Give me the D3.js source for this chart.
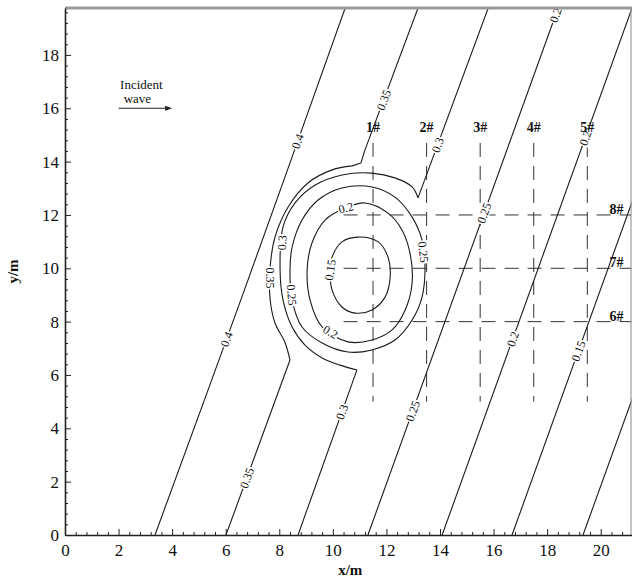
<!DOCTYPE html>
<html>
<head>
<meta charset="utf-8">
<script src="https://cdn.jsdelivr.net/npm/d3@7"></script>
<style>
  body { margin: 0; background: #fff; }
  text { font-family: "Liberation Serif", "Times New Roman", serif; fill: #111; }
</style>
</head>
<body>
<svg id="chart" width="632" height="580"></svg>
<script>
// ---- Domain and ticks (metres) ----
const xDomain = [0, 21.15];
const yDomain = [0, 19.76];
const xMajorTicks = [0, 2, 4, 6, 8, 10, 12, 14, 16, 18, 20];
const yMajorTicks = [0, 2, 4, 6, 8, 10, 12, 14, 16, 18];
const minorStep = 0.4;

// ---- Wave height contours: [x, y] points in metres ----
const h040 = [[3.36, 0], [6.70, 9.19], [10.46, 19.76]];
const h035 = [[6.01, 0], [8.40, 6.56], [8.22, 7.20], [7.84, 7.95], [7.66, 8.81], [7.66, 10.05],
              [7.84, 11.17], [8.33, 12.30], [9.07, 13.20], [9.97, 13.69], [10.72, 13.84],
              [11.05, 13.95], [11.20, 14.44], [13.18, 19.76]];
const h030 = [[8.70, 0], [10.90, 6.19], [10.27, 6.37], [9.60, 6.64], [8.96, 7.12], [8.48, 7.80],
              [8.14, 8.81], [8.03, 9.94], [8.14, 11.55], [8.59, 12.45], [9.34, 13.12],
              [10.34, 13.50], [11.46, 13.57], [12.32, 13.39], [12.96, 13.05], [13.18, 12.64],
              [15.80, 19.76]];
const h025 = [[11.31, 0], [18.41, 19.76]];
const h025ring = [[11.46, 13.05], [10.34, 13.01], [9.45, 12.56], [8.85, 11.81], [8.48, 10.80],
                  [8.40, 9.94], [8.48, 8.81], [8.85, 7.80], [9.60, 7.20], [10.57, 6.86],
                  [11.46, 6.94], [12.32, 7.31], [12.96, 8.06], [13.33, 8.92], [13.44, 10.05],
                  [13.33, 11.06], [12.96, 11.92], [12.32, 12.67]];
const h020 = [[14.08, 0], [21.17, 19.76]];
const h020ring = [[11.20, 12.45], [10.46, 12.26], [9.71, 11.81], [9.22, 10.95], [9.04, 9.94],
                  [9.15, 8.81], [9.60, 7.80], [10.57, 7.24], [11.46, 7.31], [12.21, 7.69],
                  [12.70, 8.44], [12.96, 9.45], [12.88, 10.57], [12.58, 11.44], [12.06, 12.07]];
const h015 = [[16.69, 0], [21.20, 12.57]];
const h015ring = [[10.94, 11.17], [10.34, 10.99], [9.97, 10.42], [9.90, 9.94], [9.97, 9.19],
                  [10.34, 8.55], [10.83, 8.32], [11.46, 8.44], [11.95, 8.92], [12.14, 9.67],
                  [12.06, 10.42], [11.69, 10.99]];
const h010 = [[19.34, 0], [21.20, 5.17]];

// Point indices where a contour bends sharply round the obstacle
const h035Corners = [1, 10, 11, 12];
const h030Corners = [1, 15];

// Where each contour carries its value label (points in metres)
const h040Labels = [[8.66, 14.77], [6.00, 7.35]];
const h035Labels = [[11.90, 16.31], [6.79, 2.14], [7.66, 9.64]];
const h030Labels = [[13.91, 14.62], [10.34, 4.61], [8.25, 10.95]];
const h025Labels = [[15.65, 12.07], [12.98, 4.65], [18.35, 19.60]];
const h025ringLabels = [[8.44, 9.00], [13.40, 10.61]];
const h020Labels = [[19.42, 14.89], [16.72, 7.35]];
const h020ringLabels = [[10.53, 12.11], [9.82, 7.46]];
const h015Labels = [[19.17, 6.90]];
const h015ringLabels = [[9.90, 9.94]];

// ---- Measuring stations ----
const stationX = [11.5, 13.5, 15.5, 17.5, 19.5];
const stationXNames = ["1#", "2#", "3#", "4#", "5#"];
const stationXSpan = [5.0, 14.7];
const stationY = [8, 10, 12];
const stationYNames = ["6#", "7#", "8#"];
const stationYStart = 10.4;

// Incident wave arrow (metres)
const arrowFrom = [2.0, 16.0];
const arrowTo = [4.0, 16.0];

const contourLines = [
  { level: 0.40, pts: h040, closed: false, corners: [], labels: h040Labels },
  { level: 0.35, pts: h035, closed: false, corners: h035Corners, labels: h035Labels },
  { level: 0.30, pts: h030, closed: false, corners: h030Corners, labels: h030Labels },
  { level: 0.25, pts: h025, closed: false, corners: [], labels: h025Labels },
  { level: 0.25, pts: h025ring, closed: true, corners: [], labels: h025ringLabels },
  { level: 0.20, pts: h020, closed: false, corners: [], labels: h020Labels },
  { level: 0.20, pts: h020ring, closed: true, corners: [], labels: h020ringLabels },
  { level: 0.15, pts: h015, closed: false, corners: [], labels: h015Labels },
  { level: 0.15, pts: h015ring, closed: true, corners: [], labels: h015ringLabels },
  { level: 0.10, pts: h010, closed: false, corners: [], labels: [] }
];

// ---- Layout ----
const M = { left: 65, right: 631.5, top: 8, bottom: 535 };
const svg = d3.select("#chart");
const x = d3.scaleLinear().domain(xDomain).range([M.left, M.right]);
const y = d3.scaleLinear().domain(yDomain).range([M.bottom, M.top]);

svg.append("defs").append("clipPath").attr("id", "plotClip")
  .append("rect").attr("x", M.left).attr("y", M.top)
  .attr("width", M.right - M.left).attr("height", M.bottom - M.top);

const plot = svg.append("g").attr("clip-path", "url(#plotClip)");

// Station dashed lines
const dash = "14,9";
plot.append("g").selectAll("line").data(stationX).join("line")
  .attr("x1", d => x(d)).attr("x2", d => x(d))
  .attr("y1", y(stationXSpan[1])).attr("y2", y(stationXSpan[0]))
  .attr("stroke", "#333").attr("stroke-width", 1).attr("stroke-dasharray", dash);
plot.append("g").selectAll("line").data(stationY).join("line")
  .attr("x1", x(stationYStart)).attr("x2", x(xDomain[1]))
  .attr("y1", d => y(d)).attr("y2", d => y(d))
  .attr("stroke", "#333").attr("stroke-width", 1).attr("stroke-dasharray", dash);

// Contour lines: smooth between corners, straight where only two points remain
const smoothLine = d3.line().x(d => x(d[0])).y(d => y(d[1])).curve(d3.curveCatmullRom.alpha(0.5));
const closedLine = d3.line().x(d => x(d[0])).y(d => y(d[1])).curve(d3.curveCatmullRomClosed.alpha(0.5));
const straightLine = d3.line().x(d => x(d[0])).y(d => y(d[1]));

function contourPath(c) {
  if (c.closed) return closedLine(c.pts);
  const cuts = [0, ...c.corners, c.pts.length - 1];
  let d = "";
  for (let i = 0; i < cuts.length - 1; i++) {
    const piece = c.pts.slice(cuts[i], cuts[i + 1] + 1);
    d += (piece.length > 2 ? smoothLine : straightLine)(piece);
  }
  return d;
}

plot.append("g").selectAll("path").data(contourLines).join("path")
  .attr("d", contourPath)
  .attr("fill", "none").attr("stroke", "#1a1a1a").attr("stroke-width", 1.1)
  .attr("stroke-linejoin", "miter");

// Snap a label spot onto its contour and find the local direction
function onLine(c, p) {
  const P = [x(p[0]), y(p[1])];
  const n = c.pts.length, segs = c.closed ? n : n - 1;
  let best = null;
  for (let i = 0; i < segs; i++) {
    const a = c.pts[i], b = c.pts[(i + 1) % n];
    const ax = x(a[0]), ay = y(a[1]), bx = x(b[0]), by = y(b[1]);
    const dx = bx - ax, dy = by - ay;
    const t = Math.max(0, Math.min(1, ((P[0] - ax) * dx + (P[1] - ay) * dy) / (dx * dx + dy * dy)));
    const qx = ax + t * dx, qy = ay + t * dy;
    const dist = Math.hypot(qx - P[0], qy - P[1]);
    if (!best || dist < best.dist) best = { dist, qx, qy, ang: Math.atan2(dy, dx) * 180 / Math.PI };
  }
  let ang = best.ang;
  if (ang > 90) ang -= 180;
  if (ang <= -90) ang += 180;
  return { px: best.qx, py: best.qy, ang };
}

const fmt = v => String(+v.toFixed(2));
const labelLayer = plot.append("g");
contourLines.forEach(c => {
  c.labels.forEach(p => {
    const s = onLine(c, p);
    const g = labelLayer.append("g")
      .attr("transform", `translate(${s.px},${s.py}) rotate(${s.ang})`);
    const t = g.append("text").attr("text-anchor", "middle").attr("dy", "0.35em")
      .attr("font-size", 12).text(fmt(c.level));
    const bb = t.node().getBBox();
    g.insert("rect", "text").attr("x", bb.x - 1).attr("y", bb.y + 1.5)
      .attr("width", bb.width + 2).attr("height", bb.height - 3).attr("fill", "#fff");
  });
});

// Station names
plot.append("g").selectAll("text").data(stationX).join("text")
  .attr("x", d => x(d)).attr("y", y(stationXSpan[1]) - 11)
  .attr("text-anchor", "middle").attr("font-size", 14).attr("font-weight", "bold")
  .text((d, i) => stationXNames[i]);
plot.append("g").selectAll("text").data(stationY).join("text")
  .attr("x", M.right - 8).attr("y", d => y(d) - 1)
  .attr("text-anchor", "end").attr("font-size", 14).attr("font-weight", "bold")
  .text((d, i) => stationYNames[i]);

// Incident wave note
const note = svg.append("g");
note.append("text").attr("x", (x(arrowFrom[0]) + x(arrowTo[0])) / 2 - 4).attr("y", y(arrowFrom[1]) - 19)
  .attr("text-anchor", "middle").attr("font-size", 13).text("Incident");
note.append("text").attr("x", (x(arrowFrom[0]) + x(arrowTo[0])) / 2 - 8).attr("y", y(arrowFrom[1]) - 5)
  .attr("text-anchor", "middle").attr("font-size", 13).text("wave");
note.append("line")
  .attr("x1", x(arrowFrom[0])).attr("x2", x(arrowTo[0]) - 4)
  .attr("y1", y(arrowFrom[1])).attr("y2", y(arrowTo[1]))
  .attr("stroke", "#222").attr("stroke-width", 1.1);
note.append("path")
  .attr("d", `M${x(arrowTo[0])},${y(arrowTo[1])} l-7,-2.5 l0,5 z`)
  .attr("fill", "#222");

// ---- Frame ----
svg.append("line").attr("x1", M.left).attr("x2", 632).attr("y1", M.top).attr("y2", M.top)
  .attr("stroke", "#999").attr("stroke-width", 3);
svg.append("line").attr("x1", M.right - 0.5).attr("x2", M.right - 0.5).attr("y1", M.top).attr("y2", M.bottom)
  .attr("stroke", "#888").attr("stroke-width", 1);

// ---- Axes (ticks point inward) ----
const xMinor = d3.range(0, Math.floor(xDomain[1] / minorStep) + 1).map(i => +(i * minorStep).toFixed(2)).filter((v, i) => i % 5 !== 0);
const yMinor = d3.range(0, Math.floor(yDomain[1] / minorStep) + 1).map(i => +(i * minorStep).toFixed(2)).filter((v, i) => i % 5 !== 0);

const gx = svg.append("g").attr("transform", `translate(0,${M.bottom})`)
  .call(d3.axisBottom(x).tickValues(xMajorTicks).tickSizeInner(-6).tickSizeOuter(0).tickPadding(9));
svg.append("g").attr("transform", `translate(0,${M.bottom})`)
  .call(d3.axisBottom(x).tickValues(xMinor).tickSizeInner(-3).tickSizeOuter(0).tickFormat(""))
  .call(g => g.select(".domain").remove());
const gy = svg.append("g").attr("transform", `translate(${M.left},0)`)
  .call(d3.axisLeft(y).tickValues(yMajorTicks).tickSizeInner(-6).tickSizeOuter(0).tickPadding(6));
svg.append("g").attr("transform", `translate(${M.left},0)`)
  .call(d3.axisLeft(y).tickValues(yMinor).tickSizeInner(-3).tickSizeOuter(0).tickFormat(""))
  .call(g => g.select(".domain").remove());

svg.selectAll(".tick line").attr("stroke", "#222");
[gx, gy].forEach(g => {
  g.select(".domain").attr("stroke", "#222").attr("stroke-width", 1.6);
  g.selectAll("text").attr("font-size", 17).attr("font-family", "'Liberation Serif', serif").attr("fill", "#222");
});

// Axis titles
svg.append("text").attr("x", (x(0) + x(xDomain[1])) / 2 + 2).attr("y", 575)
  .attr("text-anchor", "middle").attr("font-size", 15).attr("font-weight", "bold").text("x/m");
svg.append("text").attr("transform", `translate(18,${(y(0) + y(yDomain[1])) / 2}) rotate(-90)`)
  .attr("text-anchor", "middle").attr("font-size", 15).attr("font-weight", "bold").text("y/m");
</script>
</body>
</html>
